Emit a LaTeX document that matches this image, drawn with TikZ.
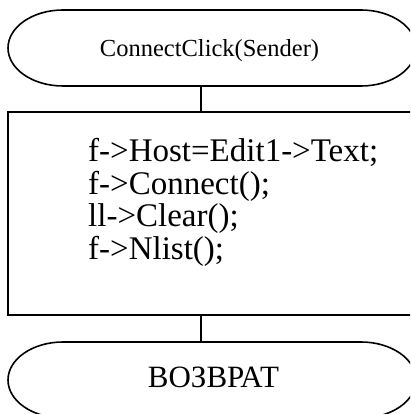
\documentclass[tikz,border=0pt]{standalone}
\usepackage{fontspec}
\setmainfont{Liberation Serif}
\begin{document}
\begin{tikzpicture}[x=1pt,y=1pt,
  outline/.style={draw=black,line width=1.6pt},
  link/.style={draw=black,line width=1.6pt},
  txt/.style={inner sep=0pt,anchor=base},
  codeline/.style={inner sep=0pt,anchor=base west,font=\fontsize{33}{33}\selectfont}]
\useasboundingbox (0,0) rectangle (410,414);
\clip (0,0) rectangle (410,414);

% start terminal
\draw[outline] (63,404) -- (361,404)
  arc[start angle=90,end angle=-90,x radius=55,y radius=38]
  -- (63,328)
  arc[start angle=270,end angle=90,x radius=55,y radius=38] -- cycle;
\node[txt,font=\fontsize{24.5}{28}\selectfont] (start) at (209.5,357) {ConnectClick(Sender)};
\coordinate (startOut) at (201,328);

% process block
\draw[outline] (430,302) -- (8,302) -- (8,99) -- (430,99);
\coordinate (procIn) at (201,302);
\coordinate (procOut) at (201,99);
\node[codeline] (l1) at (88,252) {f->Host=Edit1->Text;};
\node[codeline] (l2) at (88,219.5) {f->Connect();};
\node[codeline] (l3) at (88,187) {ll->Clear();};
\node[codeline] (l4) at (88,154.5) {f->Nlist();};

% end terminal
\draw[outline] (63,72) -- (361,72)
  arc[start angle=90,end angle=-90,x radius=55,y radius=38]
  -- (63,-4)
  arc[start angle=270,end angle=90,x radius=55,y radius=38] -- cycle;
\node[txt,font=\fontsize{31}{36}\selectfont] (stop) at (213.5,26) {ВОЗВРАТ};
\coordinate (stopIn) at (201,72);

% connectors
\draw[link] (startOut) -- (procIn);
\draw[link] (procOut) -- (stopIn);
\end{tikzpicture}
\end{document}
